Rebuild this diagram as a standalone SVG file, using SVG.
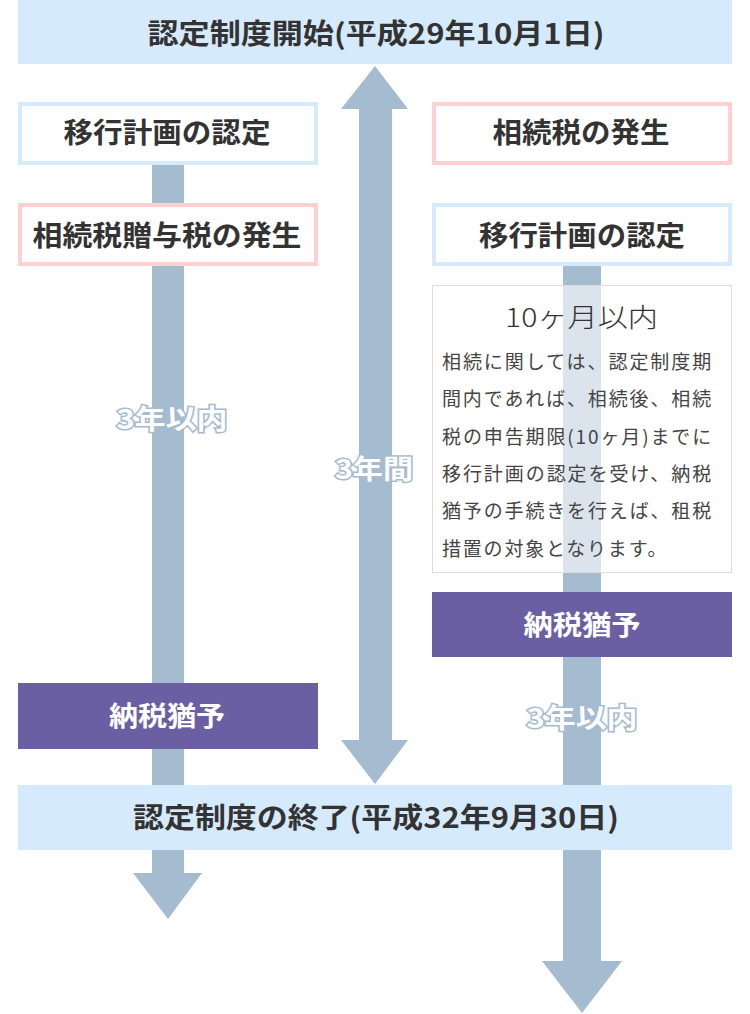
<svg xmlns="http://www.w3.org/2000/svg" width="750" height="1014" viewBox="0 0 750 1014">
<style>
.t{font-family:"Noto Sans CJK JP","Noto Sans",sans-serif;}
.b{font-weight:bold;fill:#333;font-size:28px;text-anchor:middle;}
.w{font-weight:bold;fill:#fff;font-size:27px;text-anchor:middle;}
.lbl{font-weight:bold;fill:#fff;stroke:#a5bbd0;stroke-width:3px;paint-order:stroke;font-size:27px;text-anchor:middle;}
.body{fill:#444;font-size:19px;letter-spacing:1.8px;}
.arr{fill:#a5bbd0;}
.bar{fill:#d5eafd;}
.bx{fill:#fff;stroke-width:4;}
.blue{stroke:#d5eafd;}
.pink{stroke:#ffd0d0;}
.pur{fill:#6b5fa3;}
</style>
<rect width="750" height="1014" fill="#fff"/>
<g id="connectors">
  <polygon class="arr" points="152,160 184,160 184,873 202,873 168,919 133,873 152,873"/>
  <polygon class="arr" points="375,66 408,109 392,109 392,740 408,740 375,784 341,740 359,740 359,109 341,109"/>
  <polygon class="arr" points="563,260 601,260 601,961 622,961 582,1013 542,961 563,961"/>
</g>
<g id="start">
  <rect class="bar" x="18" y="0" width="714" height="64"/>
  <text class="t b" x="376" y="44" font-size="30" textLength="457" lengthAdjust="spacingAndGlyphs">認定制度開始(平成29年10月1日)</text>
</g>
<g id="left-plan">
  <rect class="bx blue" x="20" y="104" width="296" height="59"/>
  <text class="t b" x="167" y="143" textLength="207" lengthAdjust="spacingAndGlyphs">移行計画の認定</text>
</g>
<g id="left-occur">
  <rect class="bx pink" x="20" y="205" width="296" height="59"/>
  <text class="t b" x="167" y="246" textLength="269" lengthAdjust="spacingAndGlyphs">相続税贈与税の発生</text>
</g>
<g id="left-3y">
  <text class="t lbl" x="172" y="429" textLength="111" lengthAdjust="spacingAndGlyphs">3年以内</text>
</g>
<g id="mid-3y">
  <text class="t lbl" x="374" y="479" textLength="78" lengthAdjust="spacingAndGlyphs">3年間</text>
</g>
<g id="left-defer">
  <rect class="pur" x="18" y="683" width="300" height="66"/>
  <text class="t w" x="167" y="726" textLength="116" lengthAdjust="spacingAndGlyphs">納税猶予</text>
</g>
<g id="right-occur">
  <rect class="bx pink" x="434" y="104" width="296" height="59"/>
  <text class="t b" x="581" y="143" textLength="177" lengthAdjust="spacingAndGlyphs">相続税の発生</text>
</g>
<g id="right-plan">
  <rect class="bx blue" x="434" y="205" width="296" height="59"/>
  <text class="t b" x="582" y="246" textLength="206" lengthAdjust="spacingAndGlyphs">移行計画の認定</text>
</g>
<g id="note">
  <rect x="432.5" y="285.5" width="299" height="287" fill="#fff" fill-opacity="0.6" stroke="#dddddd" stroke-width="1"/>
  <text class="t" x="581.5" y="327" fill="#333" font-size="26" font-weight="300" text-anchor="middle" textLength="153" lengthAdjust="spacingAndGlyphs">10ヶ月以内</text>
  <text class="t body" x="442" y="369" textLength="271">相続に関しては、認定制度期</text>
  <text class="t body" x="442" y="406" textLength="271">間内であれば、相続後、相続</text>
  <text class="t body" x="442" y="444" textLength="271">税の申告期限(10ヶ月)までに</text>
  <text class="t body" x="442" y="481" textLength="271">移行計画の認定を受け、納税</text>
  <text class="t body" x="442" y="518" textLength="271">猶予の手続きを行えば、租税</text>
  <text class="t body" x="442" y="556">措置の対象となります。</text>
</g>
<g id="right-defer">
  <rect class="pur" x="432" y="592" width="300" height="65"/>
  <text class="t w" x="582" y="635" textLength="117" lengthAdjust="spacingAndGlyphs">納税猶予</text>
</g>
<g id="right-3y">
  <text class="t lbl" x="582" y="728" textLength="111" lengthAdjust="spacingAndGlyphs">3年以内</text>
</g>
<g id="end">
  <rect class="bar" x="18" y="785" width="714" height="65"/>
  <text class="t b" x="376" y="828" font-size="30" textLength="486" lengthAdjust="spacingAndGlyphs">認定制度の終了(平成32年9月30日)</text>
</g>
</svg>
